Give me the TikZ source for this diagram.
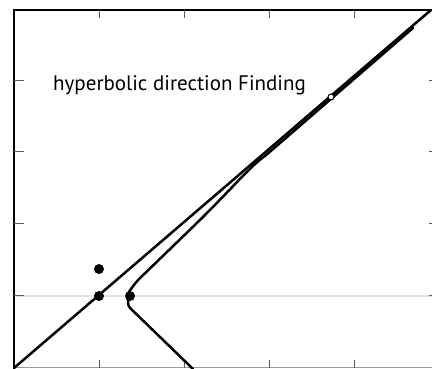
\documentclass[tikz,border=0pt]{standalone}
\usepackage{fontspec}
\setmainfont{PT Sans}
\definecolor{tickgray}{HTML}{5A5A5A}
\definecolor{axisgray}{HTML}{9A9A9A}
\definecolor{guidegray}{HTML}{E4E4E4}

\begin{document}
\begin{tikzpicture}[
		x=1pt, y=1pt,
		frame/.style={draw=black, line width=1.2pt},
		tickmark/.style={draw=tickgray, line width=1pt},
		curve/.style={draw=black, line width=2.5pt, line join=round, line cap=round},
		dot/.style={circle, fill=black, inner sep=0pt, minimum size=10pt},
		hollow/.style={circle, draw=black, fill=white, line width=1pt, inner sep=0pt, minimum size=6pt},
		label/.style={font=\fontsize{21}{24}\selectfont, inner sep=0pt}
	]
		\useasboundingbox (0,0) rectangle (432,369);
		\clip (0,0) rectangle (432,369);

		% guide line and axes
		\draw[guidegray, line width=1.6pt] (14,73) -- (432,73);
		\draw[axisgray, line width=1pt] (14,1) -- (432,1);
		\draw[frame] (432,359) -- (14,359) -- (14,1);
		\foreach \tx in {99,184,269,354} {
			\draw[tickmark] (\tx,359) -- (\tx,351);
			\draw[tickmark] (\tx,1) -- (\tx,9);
		}
		\foreach \ty in {73,145,217,288} {
			\draw[tickmark] (14,\ty) -- (24,\ty);
			\draw[tickmark] (429,\ty) -- (432,\ty);
		}

		% asymptote and branch
		\coordinate (start) at (14,1);
		\coordinate (end) at (431,359);
		\draw[curve] (start) -- (end);
		\draw[curve, rounded corners=3pt]
			(193,0) -- (128,63) -- (128,76) -- (137,88) -- (200,149)
			.. controls (235,184) and (250,202) .. (265,213) -- (413,341);

		% points
		\node[dot] (focusA) at (99,73) {};
		\node[dot] (focusB) at (99,100) {};
		\node[dot] (vertex) at (130,73) {};
		\node[hollow] (marker) at (331,272) {};

		\node[label, anchor=west] (title) at (53,284) {hyperbolic direction Finding};
	\end{tikzpicture}
\end{document}
